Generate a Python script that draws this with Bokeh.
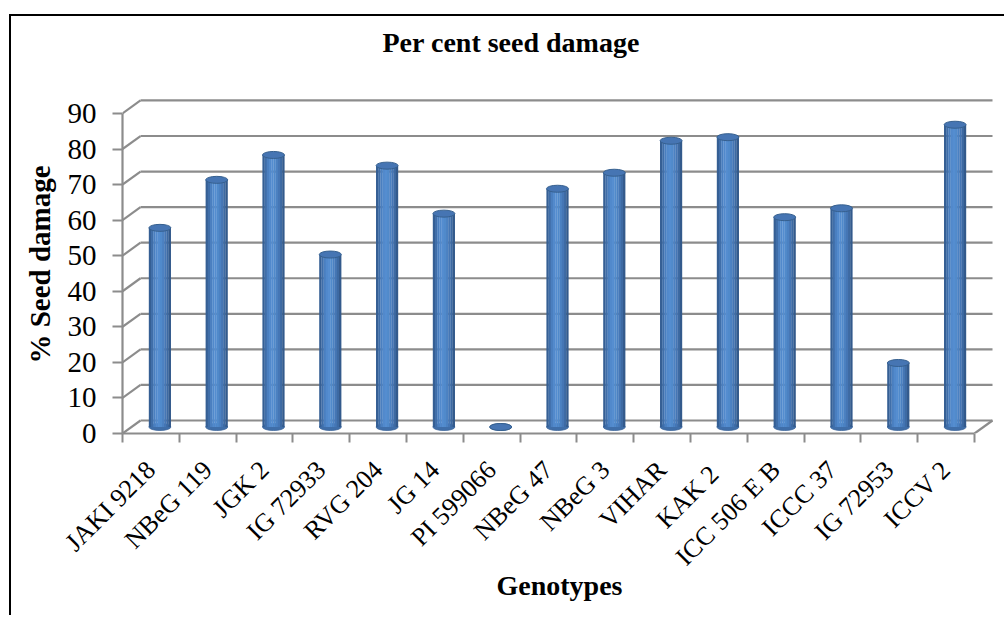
import numpy as np
from bokeh.plotting import figure
from bokeh.models import ColumnDataSource, FixedTicker, Range1d, Title
from bokeh.embed import file_html
from bokeh.resources import INLINE

# ---- data ----
genotypes = ["JAKI 9218", "NBeG 119", "JGK 2", "IG 72933", "RVG 204", "JG 14",
             "PI 599066", "NBeG 47", "NBeG 3", "VIHAR", "KAK  2", "ICC 506 E B",
             "ICCC 37", "IG 72953", "ICCV 2"]
seed_damage = [56, 69.5, 76.5, 48.5, 73.5, 60, 0, 67, 71.5, 80.5, 81.5, 59, 61.5, 18, 85]
y_ticks = [0, 10, 20, 30, 40, 50, 60, 70, 80, 90]

# ---- layout geometry ----
W, H = 995, 601
B_LEFT, B_RIGHT, B_TOP, B_BOTTOM = 111, 10, 79, 184
frame_w = W - B_LEFT - B_RIGHT
frame_h = H - B_TOP - B_BOTTOM
PX_X = 56.8          # px per category
PX_Y = 3.556         # px per % unit
x_end = frame_w / PX_X
y_end = frame_h / PX_Y
n = len(genotypes)

# 3-D depth offset (back wall) in data units
bdx = 18 / PX_X
bdy = 13 / PX_Y
mdx, mdy = bdx / 2, bdy / 2   # bars stand at mid depth

FONT = "Liberation Serif"
GRID = "#8c8c8c"

p = figure(width=W, height=H, output_backend="svg", toolbar_location=None,
           x_range=Range1d(0, x_end), y_range=Range1d(0, y_end),
           min_border_left=B_LEFT, min_border_right=B_RIGHT,
           min_border_top=B_TOP, min_border_bottom=B_BOTTOM,
           styles={"border-left": "2px solid black", "border-top": "2px solid black",
                   "margin-left": "9px", "margin-top": "14px"})
p.outline_line_color = None
p.xgrid.visible = False
p.ygrid.visible = False
p.background_fill_color = "white"
p.border_fill_color = "white"

# spacer between the frame and the title, then the title itself
p.add_layout(Title(text=" ", text_font_size="19px"), "above")
p.add_layout(Title(text="Per cent seed damage", text_font=FONT, text_font_size="28px",
                   text_font_style="bold", text_color="black",
                   align="left", offset=260), "above")

# ---- back wall gridlines and floor ----
gx0, gy0, gx1, gy1 = [], [], [], []
for t in y_ticks:
    gx0 += [0, bdx]; gy0 += [t, t + bdy]
    gx1 += [bdx, n + bdx]; gy1 += [t + bdy, t + bdy]
gx0.append(n); gy0.append(0); gx1.append(n + bdx); gy1.append(bdy)
p.segment(x0=gx0, y0=gy0, x1=gx1, y1=gy1, line_color=GRID, line_width=2.2)

# ---- cylinders ----
vals = np.array(seed_damage, dtype=float)
xc = np.arange(n) + 0.5 + mdx
bw = 22 / PX_X
src = ColumnDataSource(dict(x=xc, top=vals + mdy, bottom=np.full(n, mdy), name=genotypes))

p.ellipse(x="x", y="bottom", width=22, height=7, width_units="screen", height_units="screen",
          source=src, fill_color="#3f6ea9", line_color="#3a6399", line_width=0.8)

strip_cols = ["#355f94", "#3f6ea9", "#4a7fc0", "#5189cc", "#548dd0", "#508acb",
              "#4b81c2", "#4576b5", "#3d6aa3", "#335a8c"]
K = len(strip_cols)
sw = bw / K
for k, c in enumerate(strip_cols):
    off = -bw / 2 + sw * (k + 0.5)
    p.vbar(x=xc + off, width=sw * 1.08, top=vals + mdy, bottom=np.full(n, mdy),
           fill_color=c, line_color=None)

p.ellipse(x="x", y="top", width=22, height=7, width_units="screen", height_units="screen",
          source=src, fill_color="#4675b3", line_color="#36608f", line_width=1)

# ---- axes ----
ya = p.yaxis[0]
ya.ticker = FixedTicker(ticks=y_ticks)
ya.bounds = (0, 90)
ya.axis_line_color = GRID
ya.axis_line_width = 2.2
ya.major_tick_line_color = GRID
ya.major_tick_line_width = 2
ya.major_tick_out = 10
ya.major_tick_in = 0
ya.minor_tick_line_color = None
ya.major_label_text_font = FONT
ya.major_label_text_font_size = "29px"
ya.major_label_text_color = "black"
ya.major_label_standoff = 16
ya.axis_label = "% Seed damage"
ya.axis_label_text_font = FONT
ya.axis_label_text_font_size = "29px"
ya.axis_label_text_font_style = "bold"
ya.axis_label_text_color = "black"
ya.axis_label_standoff = 9

xa = p.xaxis[0]
centers = [i + 0.5 for i in range(n)]
xa.ticker = FixedTicker(ticks=centers, minor_ticks=list(range(n + 1)))
xa.major_label_overrides = {c: g for c, g in zip(centers, genotypes)}
xa.bounds = (0, n)
xa.axis_line_color = GRID
xa.axis_line_width = 2.2
xa.major_tick_line_color = None
xa.minor_tick_line_color = GRID
xa.minor_tick_line_width = 2
xa.minor_tick_out = 9
xa.minor_tick_in = 0
xa.major_label_orientation = np.pi / 4
xa.major_label_text_font = FONT
xa.major_label_text_font_size = "26px"
xa.major_label_text_color = "black"
xa.major_label_standoff = 23
xa.axis_label = "Genotypes"
xa.axis_label_text_font = FONT
xa.axis_label_text_font_size = "28px"
xa.axis_label_text_font_style = "bold"
xa.axis_label_text_color = "black"
xa.axis_label_standoff = -15

open("out.html", "w").write(file_html(p, INLINE))
